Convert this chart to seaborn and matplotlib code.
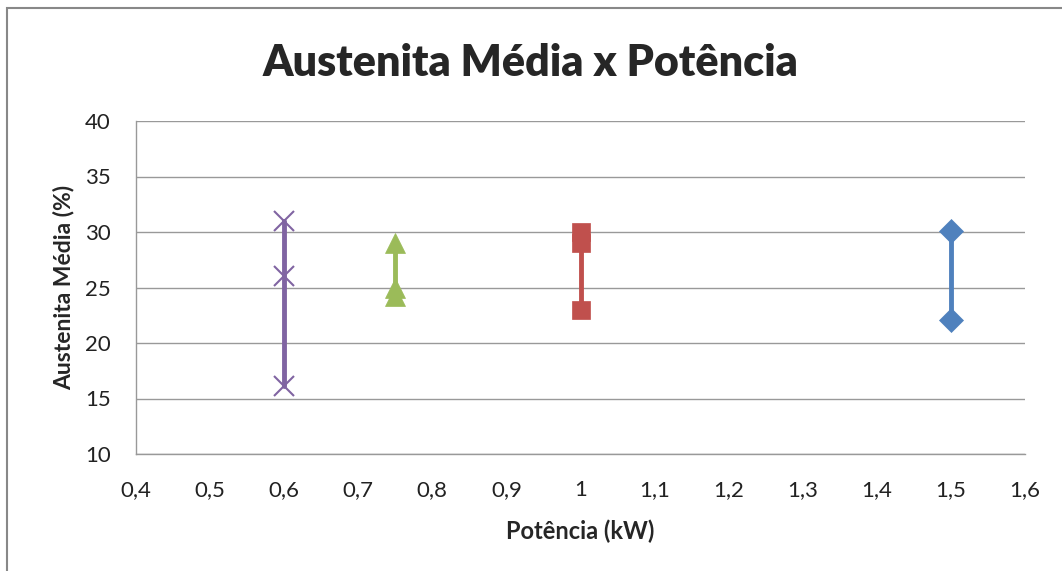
import seaborn as sns
import matplotlib.pyplot as plt
import matplotlib.patches as patches
import pandas as pd
from matplotlib.ticker import FuncFormatter

# series values
pot_15 = [1.5, 1.5]
aus_15 = [30.1, 22.1]
pot_10 = [1.0, 1.0, 1.0]
aus_10 = [30.0, 29.0, 23.0]
pot_075 = [0.75, 0.75, 0.75]
aus_075 = [29.0, 25.0, 24.2]
pot_06 = [0.6, 0.6, 0.6]
aus_06 = [31.0, 26.0, 16.1]

x_ticks = [0.4, 0.5, 0.6, 0.7, 0.8, 0.9, 1.0, 1.1, 1.2, 1.3, 1.4, 1.5, 1.6]
y_ticks = [10, 15, 20, 25, 30, 35, 40]

series = [
    (pot_15, aus_15, "#4F81BD", "D", 12),
    (pot_10, aus_10, "#C0504D", "s", 13),
    (pot_075, aus_075, "#9BBB59", "^", 14),
    (pot_06, aus_06, "#8064A2", "x", 15),
]

sns.set_style("white")
plt.rcParams['font.family'] = ['Lato', 'DejaVu Sans']

fig = plt.figure(figsize=(10.62, 5.71), dpi=100)
ax = fig.add_axes([136 / 1062, 1 - 454 / 571, (1025 - 136) / 1062, (454 - 121) / 571])

# outer chart border
fig.patches.append(patches.Rectangle((7 / 1062, -0.1), 1.2, 1 - 8 / 571 + 0.1,
                                     transform=fig.transFigure, fill=False,
                                     edgecolor="#888888", linewidth=1.5))

for xs, ys, color, marker, ms in series:
    df = pd.DataFrame({"x": xs, "y": ys})
    sns.lineplot(data=df, x="x", y="y", ax=ax, color=color, linewidth=3.5,
                 estimator=None, sort=False, marker=marker, markersize=ms,
                 markeredgecolor=color, markeredgewidth=1.5 if marker == "x" else 0.5)

ax.set_xlim(0.4, 1.6)
ax.set_ylim(10, 40)
ax.set_xticks(x_ticks)
ax.set_yticks(y_ticks)
ax.xaxis.set_major_formatter(FuncFormatter(lambda v, p: f"{v:g}".replace(".", ",")))
ax.tick_params(axis="both", length=0, labelsize=16, colors="#222222")
ax.tick_params(axis="x", pad=19)
ax.tick_params(axis="y", pad=18)
ax.grid(axis="y", color="#999999", linewidth=1)
for side in ["top", "right"]:
    ax.spines[side].set_visible(False)
for side in ["left", "bottom"]:
    ax.spines[side].set_color("#999999")
    ax.spines[side].set_linewidth(1)

ax.set_xlabel("Potência (kW)", fontsize=17, fontweight="bold", labelpad=14)
ax.set_ylabel("Austenita Média (%)", fontsize=16.5, fontweight="bold", labelpad=8)
fig.suptitle("Austenita Média x Potência", fontsize=31, fontweight="heavy", y=0.925)

plt.savefig("out.png", dpi=100)
